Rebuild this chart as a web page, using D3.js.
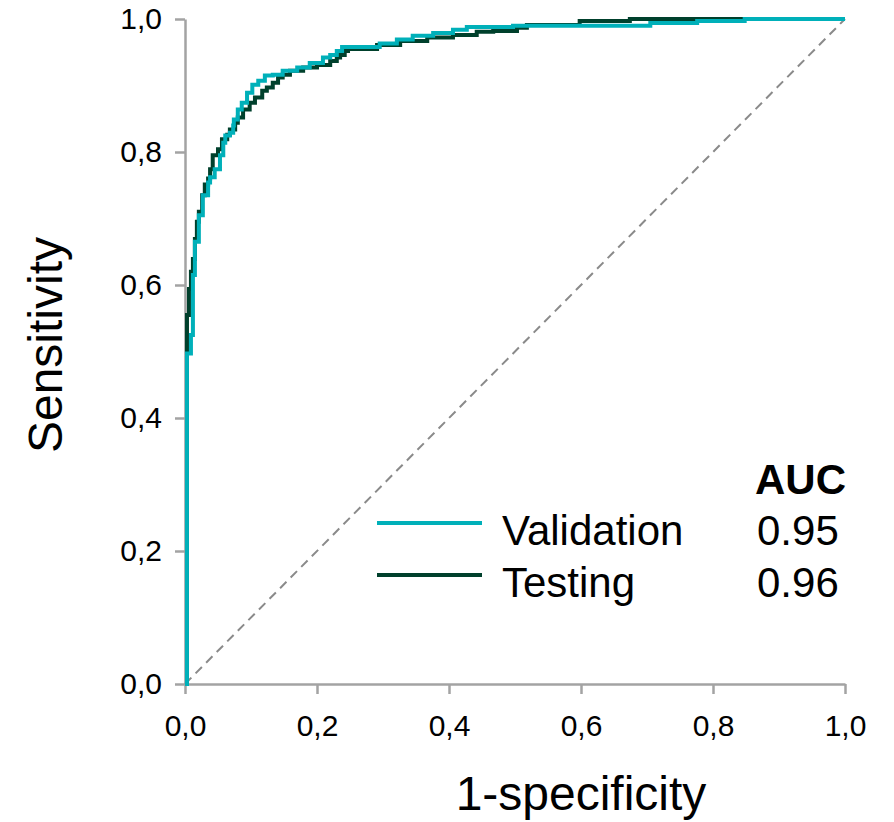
<!DOCTYPE html>
<html>
<head>
<meta charset="utf-8">
<script src="https://cdn.jsdelivr.net/npm/d3@7"></script>
<style>
  html, body { margin: 0; padding: 0; background: #fff; }
  svg { display: block; font-family: "Liberation Sans", Arial, sans-serif; }
</style>
</head>
<body>
<svg id="chart" width="894" height="822"></svg>
<script>
// ROC curve corner points: [1-specificity, sensitivity]
const validationROC = [
  [0, 0], [0.003, 0.497], [0.009, 0.525], [0.012, 0.615], [0.015, 0.665],
  [0.021, 0.705], [0.027, 0.735], [0.035, 0.754], [0.038, 0.762], [0.045, 0.774],
  [0.053, 0.795], [0.058, 0.814], [0.061, 0.825], [0.068, 0.829], [0.073, 0.840],
  [0.074, 0.849], [0.080, 0.864], [0.086, 0.874], [0.094, 0.889], [0.102, 0.901],
  [0.111, 0.907], [0.121, 0.915], [0.133, 0.916], [0.148, 0.922], [0.170, 0.927],
  [0.189, 0.934], [0.209, 0.942], [0.220, 0.946], [0.230, 0.952], [0.238, 0.958],
  [0.295, 0.963], [0.321, 0.969], [0.345, 0.975], [0.376, 0.979], [0.406, 0.984],
  [0.427, 0.988], [0.497, 0.990], [0.705, 0.994], [0.776, 0.997], [0.848, 1.000],
  [1.0, 1.0]
];

const testingROC = [
  [0, 0], [0.003, 0.555], [0.006, 0.594], [0.009, 0.620], [0.012, 0.639],
  [0.015, 0.669], [0.018, 0.695], [0.021, 0.710], [0.026, 0.735], [0.030, 0.751],
  [0.035, 0.760], [0.038, 0.774], [0.042, 0.795], [0.050, 0.804], [0.056, 0.819],
  [0.064, 0.826], [0.068, 0.834], [0.076, 0.844], [0.080, 0.852], [0.088, 0.864],
  [0.098, 0.874], [0.106, 0.882], [0.117, 0.892], [0.124, 0.897], [0.133, 0.904],
  [0.141, 0.912], [0.148, 0.916], [0.159, 0.922], [0.179, 0.927], [0.200, 0.931],
  [0.220, 0.937], [0.230, 0.942], [0.235, 0.946], [0.242, 0.952], [0.247, 0.955],
  [0.291, 0.961], [0.326, 0.967], [0.367, 0.972], [0.406, 0.976], [0.442, 0.981],
  [0.467, 0.982], [0.503, 0.987], [0.518, 0.991], [0.598, 0.997], [0.674, 1.000],
  [1.0, 1.0]
];

const tickValues = [0, 0.2, 0.4, 0.6, 0.8, 1.0];
const seriesNames = ["Validation", "Testing"];
const aucValues = ["0.95", "0.96"];
const seriesColors = ["#00B0B9", "#00402C"];

const svg = d3.select("#chart");

const x = d3.scaleLinear().domain([0, 1]).range([185, 845]);
const y = d3.scaleLinear().domain([0, 1]).range([684, 19]);

const fmt = d => d3.format(".1f")(d).replace(".", ",");
const axisColor = "#a3a3a3";

// chance diagonal
svg.append("line")
  .attr("x1", x(0)).attr("y1", y(0))
  .attr("x2", x(1)).attr("y2", y(1))
  .attr("stroke", "#8a8a8a")
  .attr("stroke-width", 2)
  .attr("stroke-dasharray", "9,6");

// axes
const yAxis = svg.append("g")
  .attr("transform", `translate(${x(0)},0)`)
  .call(d3.axisLeft(y).tickValues(tickValues).tickFormat(fmt).tickSize(10).tickPadding(13).tickSizeOuter(0));
const xAxis = svg.append("g")
  .attr("transform", `translate(0,${y(0)})`)
  .call(d3.axisBottom(x).tickValues(tickValues).tickFormat(fmt).tickSize(10).tickPadding(21).tickSizeOuter(0));

[xAxis, yAxis].forEach(g => {
  g.select(".domain").attr("stroke", axisColor).attr("stroke-width", 2.5);
  g.selectAll(".tick line").attr("stroke", axisColor).attr("stroke-width", 2.5);
  g.selectAll(".tick text")
    .attr("fill", "#000")
    .style("font-size", "30px")
    .style("font-family", "'Liberation Sans', Arial, sans-serif");
});

// ROC curves (staircase); validation drawn last so it sits on top
const line = d3.line()
  .x(d => x(d[0]))
  .y(d => y(d[1]))
  .curve(d3.curveStepAfter);

[[testingROC, seriesColors[1]], [validationROC, seriesColors[0]]].forEach(([data, color]) => {
  svg.append("path")
    .datum(data)
    .attr("fill", "none")
    .attr("stroke", color)
    .attr("stroke-width", 4)
    .attr("stroke-linejoin", "miter")
    .attr("d", line);
});

// axis titles
svg.append("text")
  .attr("transform", "translate(62,345) rotate(-90)")
  .attr("text-anchor", "middle")
  .style("font-size", "48px")
  .attr("fill", "#000")
  .text("Sensitivity");

svg.append("text")
  .attr("x", 581).attr("y", 810)
  .attr("text-anchor", "middle")
  .style("font-size", "48px")
  .attr("fill", "#000")
  .text("1-specificity");

// legend with AUC column
const legend = svg.append("g");
legend.append("text")
  .attr("x", 846).attr("y", 494)
  .attr("text-anchor", "end")
  .style("font-size", "42px")
  .style("font-weight", "bold")
  .attr("fill", "#000")
  .text("AUC");

const rowLine = [523, 575];
const rowBase = [545, 597];
seriesNames.forEach((name, i) => {
  legend.append("line")
    .attr("x1", 377).attr("x2", 482)
    .attr("y1", rowLine[i]).attr("y2", rowLine[i])
    .attr("stroke", seriesColors[i])
    .attr("stroke-width", 4);
  legend.append("text")
    .attr("x", 502).attr("y", rowBase[i])
    .style("font-size", "42px")
    .attr("fill", "#000")
    .text(name);
  legend.append("text")
    .attr("x", 757).attr("y", rowBase[i])
    .style("font-size", "42px")
    .attr("fill", "#000")
    .text(aucValues[i]);
});
</script>
</body>
</html>
